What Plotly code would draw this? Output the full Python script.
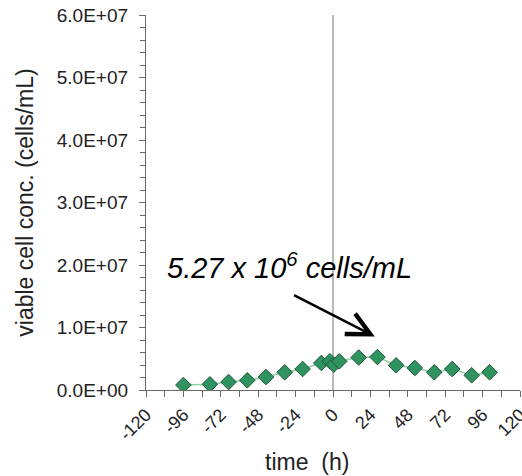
import plotly.graph_objects as go

# Viable cell concentration over time
time_h = [-96, -79, -67, -55, -43, -31, -19.5, -7.5, -2, 0.5, 4, 16.5, 28.5, 40.5, 52.5, 65, 76.5, 89, 100.5]
viable = [8.0e5, 9.1e5, 1.28e6, 1.55e6, 2.08e6, 2.83e6, 3.36e6, 4.32e6, 4.59e6, 4.05e6, 4.59e6,
          5.20e6, 5.27e6, 3.95e6, 3.52e6, 2.83e6, 3.36e6, 2.35e6, 2.83e6]

x_ticks = [-120, -96, -72, -48, -24, 0, 24, 48, 72, 96, 120]
y_ticks = [0, 1e7, 2e7, 3e7, 4e7, 5e7, 6e7]
y_labels = ["0.0E+00", "1.0E+07", "2.0E+07", "3.0E+07", "4.0E+07", "5.0E+07", "6.0E+07"]

peak_time = 28.5
peak_value = 5.27e6

FONT = "Liberation Sans, Arial"
AXIS = "#6a6a6a"

fig = go.Figure()

fig.add_trace(go.Scatter(
    x=time_h, y=viable, mode="lines+markers",
    line=dict(color="#8fd3a4", width=1.5),
    marker=dict(symbol="diamond", size=12, color="#2f9360",
                line=dict(color="#24553a", width=1)),
    showlegend=False,
))

# vertical reference line at t = 0
fig.add_shape(type="line", xref="x", yref="paper", x0=0, x1=0, y0=0, y1=1,
              line=dict(color="#8a8a8a", width=1.2), layer="below")

# arrow pointing at the peak value
fig.add_annotation(
    x=peak_time - 1.7, y=peak_value + 3.3e6, xref="x", yref="y",
    ax=-26, ay=1.53e7, axref="x", ayref="y",
    text="", showarrow=True, arrowhead=5, arrowsize=1.8,
    arrowwidth=2.5, arrowcolor="black", standoff=0,
)

fig.add_annotation(
    x=-108, y=1.99e7, xref="x", yref="y", xanchor="left", yanchor="middle",
    text="<i>%.2f x 10<sup>6</sup> cells/mL</i>" % (peak_value / 1e6),
    showarrow=False, font=dict(family=FONT, size=29, color="black"),
)

# x-axis title
fig.add_annotation(
    x=0.43, y=0, xref="paper", yref="paper", yshift=-72, yanchor="middle",
    text="time  (h)", showarrow=False, font=dict(family=FONT, size=23, color="#222222"),
)

fig.update_layout(
    width=522, height=476,
    margin=dict(l=146, r=2, t=15, b=86),
    paper_bgcolor="white", plot_bgcolor="white",
    font=dict(family=FONT, color="#222222"),
    xaxis=dict(
        range=[-120, 120], tickvals=x_ticks, ticktext=[str(v) for v in x_ticks],
        tickangle=-45, tickfont=dict(size=18), ticks="outside", ticklen=6,
        tickcolor=AXIS, showline=True, linecolor=AXIS, linewidth=1.2,
        showgrid=False, zeroline=False, ticklabeloverflow="allow", automargin=False,
        minor=dict(dtick=12, tick0=0, ticks="outside", ticklen=6, tickcolor=AXIS),
    ),
    yaxis=dict(
        range=[0, 6e7], tickvals=y_ticks, ticktext=y_labels,
        tickfont=dict(size=19), ticks="outside", ticklen=6, tickcolor=AXIS,
        ticklabelstandoff=7, automargin=False,
        showline=True, linecolor=AXIS, linewidth=1.2,
        showgrid=False, zeroline=False,
        minor=dict(dtick=2e6, tick0=0, ticks="outside", ticklen=5, tickcolor=AXIS),
        title=dict(text="viable cell conc. (cells/mL)", font=dict(size=23), standoff=16),
    ),
)

fig.write_html("out.html")
